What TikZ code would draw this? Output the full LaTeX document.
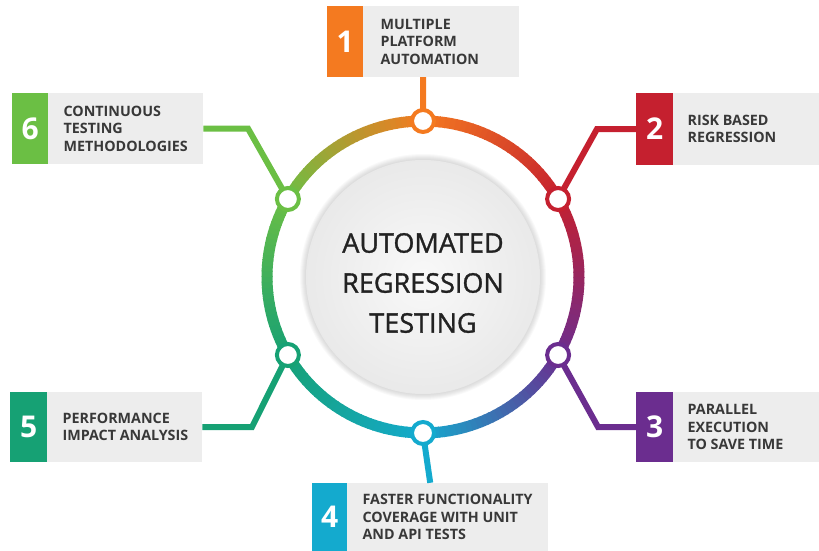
\documentclass[tikz,border=0pt]{standalone}
\usepackage{fontspec}
\setmainfont{Open Sans}
\usetikzlibrary{calc}
\definecolor{c1}{HTML}{F47A20}
\definecolor{c2}{HTML}{C5202F}
\definecolor{c3}{HTML}{6B2D8F}
\definecolor{c4}{HTML}{14AACE}
\definecolor{c5}{HTML}{16A174}
\definecolor{c6}{HTML}{6BBF44}
\definecolor{boxgray}{HTML}{EDEDED}
\definecolor{txt}{HTML}{383838}
\definecolor{ctxt}{HTML}{222222}
\tikzset{
  boxbg/.style={rectangle, fill=boxgray, inner sep=0, anchor=west},
  numbox/.style={rectangle, inner sep=0, minimum width=36, anchor=west, text=white,
    font={\fontsize{30}{30}\selectfont\bfseries}},
  boxtext/.style={anchor=west, align=left, inner sep=0, text=txt,
    font={\fontsize{14.3}{17.5}\selectfont\bfseries}},
  dotnode/.style={circle, minimum size=22, inner sep=0, line width=4, fill=white},
  conn/.style={line width=6, line join=miter},
}
\begin{document}
\begin{tikzpicture}[x=1pt,y=-1pt]
\useasboundingbox (0,0) rectangle (819,551);
\coordinate (C) at (423,277);
% centre disc with soft shadow
\foreach \i in {1,...,6} {\fill[black, opacity=0.025] (C) circle ({117+\i});}
\shade[inner color=gray!5, outer color=gray!17] (C) circle (117);
\node[text=ctxt, align=center, font={\fontsize{27}{40}\selectfont\addfontfeatures{FakeBold=1.2}}] (title) at ([yshift=-6]C) {AUTOMATED\\REGRESSION\\TESTING};
% gradient ring
\foreach \k/\ca/\cb in {0/c1/c2, 1/c2/c3, 2/c3/c4, 3/c4/c5, 4/c5/c6, 5/c6/c1} {
  \foreach \j in {0,...,29} {
    \pgfmathsetmacro\p{(\j+0.5)*100/30}
    \pgfmathsetmacro\t{-(90-60*\k-2*\j)}
    \draw[line width=11, color=\cb!\p!\ca] ($(C)+(\t:156)$) arc[start angle=\t, delta angle=2.4, radius=156];
  }
}
% dot positions
\coordinate (p1) at ($(C)+(-90:156)$);
\coordinate (p2) at ($(C)+(-30:156)$);
\coordinate (p3) at ($(C)+(30:156)$);
\coordinate (p4) at ($(C)+(90:156)$);
\coordinate (p5) at ($(C)+(150:156)$);
\coordinate (p6) at ($(C)+(210:156)$);
% boxes
\node[boxbg, minimum width=192, minimum height=71] (b1) at (327,41.5) {};
\node[boxbg, minimum width=183, minimum height=72] (b2) at (636,129) {};
\node[boxbg, minimum width=183, minimum height=70] (b3) at (636,427) {};
\node[boxbg, minimum width=236, minimum height=68] (b4) at (312,517) {};
\node[boxbg, minimum width=192, minimum height=70] (b5) at (10,427) {};
\node[boxbg, minimum width=191, minimum height=71] (b6) at (12,128.5) {};
% bend points
\coordinate (k2) at (597,129);
\coordinate (k3) at (598,427);
\coordinate (k5) at (252,427);
\coordinate (k6) at (248,128.5);
% connectors
\draw[conn, c1] (p1) -- (b1.south);
\draw[conn, c2] (p2) -- (k2) -- (b2.west);
\draw[conn, c3] (p3) -- (k3) -- (b3.west);
\draw[conn, c4] (p4) -- (b4.north);
\draw[conn, c5] (p5) -- (k5) -- (b5.east);
\draw[conn, c6] (p6) -- (k6) -- (b6.east);
% number squares
\node[numbox, fill=c1, minimum height=71] (n1) at (b1.west) {1};
\node[numbox, fill=c2, minimum height=72, minimum width=37] (n2) at (b2.west) {2};
\node[numbox, fill=c3, minimum height=70, minimum width=37] (n3) at (b3.west) {3};
\node[numbox, fill=c4, minimum height=68, minimum width=35] (n4) at (b4.west) {4};
\node[numbox, fill=c5, minimum height=70, minimum width=37] (n5) at (b5.west) {5};
\node[numbox, fill=c6, minimum height=71] (n6) at (b6.west) {6};
% texts
\node[boxtext] (t1) at ([xshift=17]n1.east) {MULTIPLE\\PLATFORM\\AUTOMATION};
\node[boxtext] (t2) at ([xshift=14]n2.east) {RISK BASED\\REGRESSION};
\node[boxtext] (t3) at ([xshift=14]n3.east) {PARALLEL\\EXECUTION\\TO SAVE TIME};
\node[boxtext] (t4) at ([xshift=15]n4.east) {FASTER FUNCTIONALITY\\COVERAGE WITH UNIT\\AND API TESTS};
\node[boxtext] (t5) at ([xshift=15]n5.east) {PERFORMANCE\\IMPACT ANALYSIS};
\node[boxtext] (t6) at ([xshift=15]n6.east) {CONTINUOUS\\TESTING\\METHODOLOGIES};
% dots
\node[dotnode, draw=c1] (d1) at (p1) {};
\node[dotnode, draw=c2] (d2) at (p2) {};
\node[dotnode, draw=c3] (d3) at (p3) {};
\node[dotnode, draw=c4] (d4) at (p4) {};
\node[dotnode, draw=c5] (d5) at (p5) {};
\node[dotnode, draw=c6] (d6) at (p6) {};
\end{tikzpicture}
\end{document}
